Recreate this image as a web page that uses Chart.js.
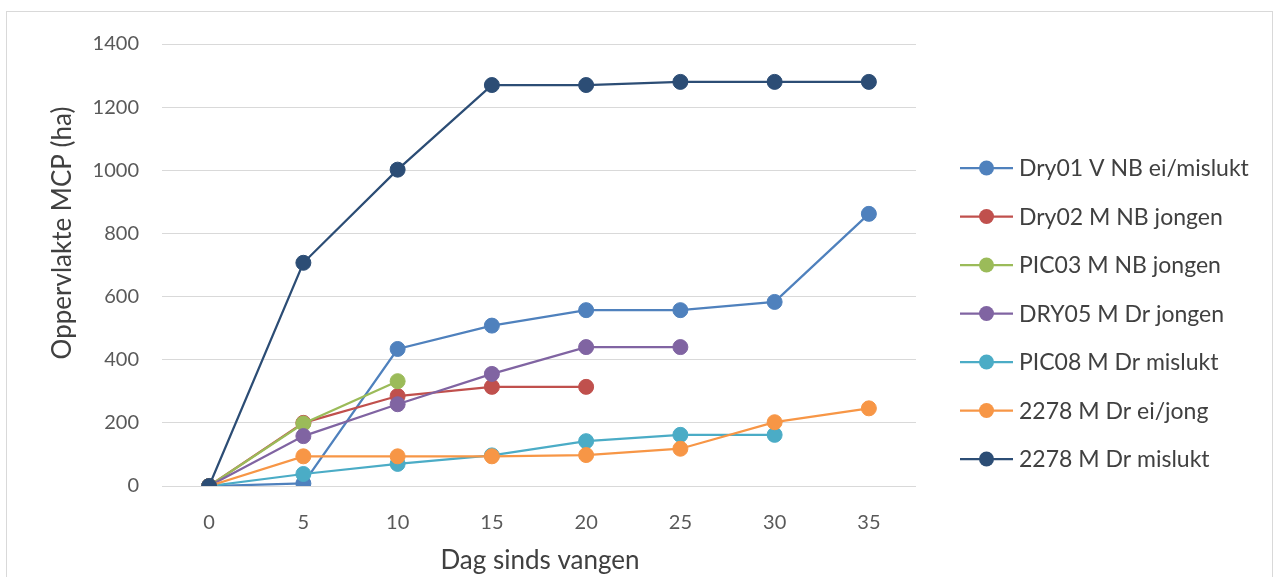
<!DOCTYPE html>
<html>
<head>
<meta charset="utf-8">
<script src="https://cdn.jsdelivr.net/npm/chart.js@4/dist/chart.umd.min.js"></script>
<style>
  html, body { margin: 0; padding: 0; background: #ffffff; }
  #wrap { position: relative; width: 1275px; height: 577px; }
  #frame { position: absolute; left: 6px; top: 11px; width: 1267px; height: 580px;
           border: 1px solid #d9d9d9; box-sizing: border-box; }
  canvas { position: absolute; left: 0; top: 0; }
</style>
</head>
<body>
<div id="wrap">
  <div id="frame"></div>
  <canvas id="c" width="1275" height="577"></canvas>
</div>
<script>
// Days since capture
const days = ['0', '5', '10', '15', '20', '25', '30', '35'];
const yTicks = [0, 200, 400, 600, 800, 1000, 1200, 1400];

// MCP area (ha) per animal
const dry01 = [0, 8, 434, 508, 557, 557, 583, 862];
const dry02 = [0, 200, 285, 314, 314, null, null, null];
const pic03 = [0, 198, 332, null, null, null, null, null];
const dry05 = [0, 158, 259, 355, 440, 440, null, null];
const pic08 = [0, 38, 70, 97, 142, 162, 162, null];
const m2278eiJong = [0, 94, 94, 94, 98, 118, 202, 246];
const m2278mislukt = [0, 707, 1002, 1270, 1270, 1280, 1280, 1280];

const seriesNames = [
  'Dry01 V NB ei/mislukt',
  'Dry02 M NB jongen',
  'PIC03 M NB jongen',
  'DRY05 M Dr jongen',
  'PIC08 M Dr mislukt',
  '2278 M Dr ei/jong',
  '2278 M Dr mislukt'
];
const seriesData = [dry01, dry02, pic03, dry05, pic08, m2278eiJong, m2278mislukt];
const seriesColors = ['#4F81BD', '#C0504D', '#9BBB59', '#8064A2', '#4BACC6', '#F79646', '#2C4D75'];

const FONT = 'Lato, "Liberation Sans", sans-serif';
const TEXT = '#404040';

const datasets = seriesData.map((d, i) => ({
  label: seriesNames[i],
  data: d,
  borderColor: seriesColors[i],
  backgroundColor: seriesColors[i],
  pointBackgroundColor: seriesColors[i],
  pointBorderColor: seriesColors[i],
  borderWidth: 2.25,
  pointRadius: 7.5,
  pointBorderWidth: 1,
  tension: 0,
  spanGaps: false,
  order: seriesData.length - i
}));

// Legend and axis titles drawn on the canvas
const decorations = {
  id: 'decorations',
  afterDraw(chart) {
    const ctx = chart.ctx;
    ctx.save();
    // axis titles
    ctx.fillStyle = TEXT;
    ctx.font = '26px ' + FONT;
    ctx.textAlign = 'center';
    ctx.textBaseline = 'middle';
    ctx.fillText('Dag sinds vangen', 540, 561);
    ctx.translate(63, 233);
    ctx.rotate(-Math.PI / 2);
    ctx.fillText('Oppervlakte MCP (ha)', 0, 0);
    ctx.restore();

    // legend
    ctx.save();
    const x0 = 960, lineLen = 53, y0 = 168, step = 48.5;
    chart.data.datasets.forEach((ds, i) => {
      const y = y0 + i * step;
      ctx.strokeStyle = ds.borderColor;
      ctx.lineWidth = 2.25;
      ctx.beginPath();
      ctx.moveTo(x0, y);
      ctx.lineTo(x0 + lineLen, y);
      ctx.stroke();
      ctx.fillStyle = ds.borderColor;
      ctx.beginPath();
      ctx.arc(x0 + lineLen / 2, y, 7.5, 0, Math.PI * 2);
      ctx.fill();
      ctx.fillStyle = TEXT;
      ctx.font = '23px ' + FONT;
      ctx.textAlign = 'left';
      ctx.textBaseline = 'middle';
      ctx.fillText(ds.label, x0 + lineLen + 6, y + 1);
    });
    ctx.restore();
  }
};

new Chart(document.getElementById('c'), {
  type: 'line',
  data: { labels: days, datasets },
  options: {
    responsive: false,
    animation: false,
    devicePixelRatio: 1,
    layout: { padding: { left: 0, top: 44, right: 359, bottom: 0 } },
    plugins: { legend: { display: false }, tooltip: { enabled: false } },
    scales: {
      x: {
        type: 'category',
        offset: true,
        grid: { display: false, drawTicks: false },
        border: { display: false },
        ticks: { color: '#595959', font: { family: FONT, size: 20 }, padding: 25, maxRotation: 0 },
        afterFit(scale) { scale.height = 577 - 486; }
      },
      y: {
        min: 0,
        max: 1400,
        afterBuildTicks(scale) { scale.ticks = yTicks.map(v => ({ value: v })); },
        grid: { color: '#d9d9d9', lineWidth: 1, drawTicks: false },
        border: { display: false },
        ticks: {
          color: '#595959', font: { family: FONT, size: 20 }, padding: 23,
          callback: (v) => String(v)
        },
        afterFit(scale) { scale.width = 162; }
      }
    }
  },
  plugins: [decorations]
});
</script>
</body>
</html>
